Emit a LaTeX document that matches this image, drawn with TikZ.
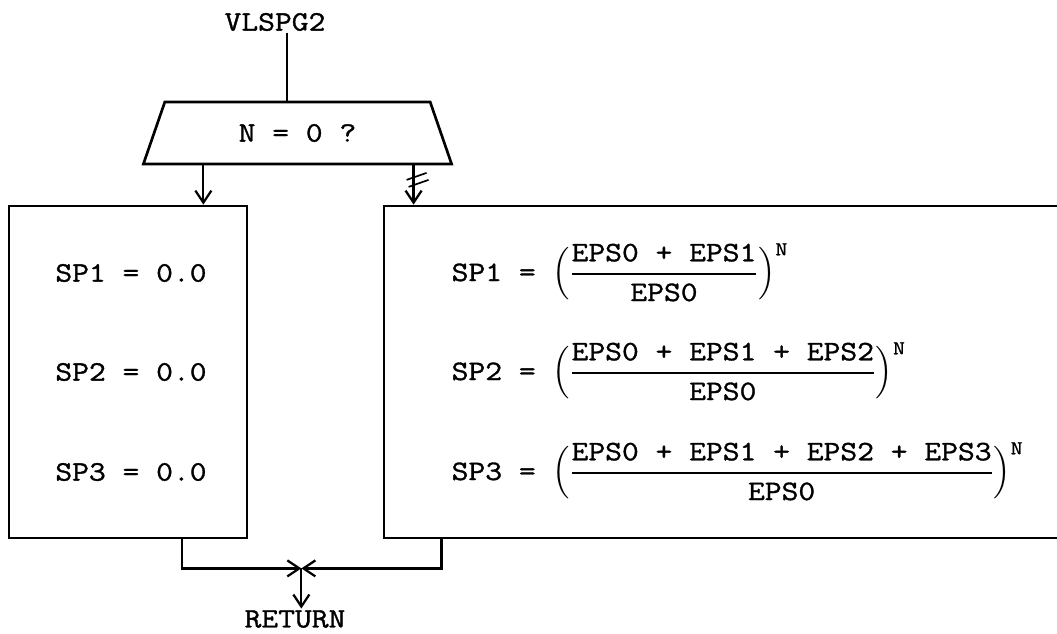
\documentclass[tikz,border=0pt]{standalone}
\usepackage{amsmath}
\usepackage{fontspec}
\setmonofont{Latin Modern Mono}[FakeStretch=1.16, FakeBold=1.2]
\usetikzlibrary{positioning,arrows.meta,shapes.geometric,calc}
\tikzset{
  flowarrow/.style={-{Straight Barb[length=0.3cm, width=0.4cm]}, line width=1.6pt},
  flowline/.style={line width=1.6pt},
  testbox/.style={draw, trapezium, trapezium stretches=true, trapezium left angle=62, trapezium right angle=62, line width=1.9pt, minimum width=7.78cm, minimum height=1.55cm, inner sep=0pt},
  procbox/.style={draw, rectangle, line width=1.9pt, inner sep=0pt},
  typed/.style={font=\ttfamily\fontsize{20}{24}\selectfont, inner sep=1pt}
}

\begin{document}
\begin{tikzpicture}[x=0.025cm, y=-0.025cm, every node/.style={typed}]
  \useasboundingbox (0,0) rectangle (1057,633);
  \clip (0,0) rectangle (1057,633);
  \node (entry) at (275,22) {VLSPG2};
  \node[testbox] (test) at (297.5,133) {N = 0 ?};
  \node[procbox, minimum width=5.95cm, minimum height=8.3cm] (zero) at (128,372) {};
  \node[procbox, minimum width=17.4cm, minimum height=8.3cm] (power) at (732,372) {};
  \node (ret) at (295,619) {RETURN};
  % N = 0
  \node (z1) at (131,273) {SP1 = 0.0};
  \node (z2) at (131,372) {SP2 = 0.0};
  \node (z3) at (131,472) {SP3 = 0.0};
  % N /= 0
  \node[anchor=base west] (p1) at (450,281) {SP1 = $\displaystyle\Bigl(\genfrac{}{}{1.4pt}{0}{\text{EPS0 + EPS1}}{\text{EPS0}}\Bigr)^{\text{N}}$};
  \node[anchor=base west] (p2) at (450,380) {SP2 = $\displaystyle\Bigl(\genfrac{}{}{1.4pt}{0}{\text{EPS0 + EPS1 + EPS2}}{\text{EPS0}}\Bigr)^{\text{N}}$};
  \node[anchor=base west] (p3) at (450,480) {SP3 = $\displaystyle\Bigl(\genfrac{}{}{1.4pt}{0}{\text{EPS0 + EPS1 + EPS2 + EPS3}}{\text{EPS0}}\Bigr)^{\text{N}}$};

  \coordinate (entryfoot) at ($(entry.south)+(12,0)$);
  \draw[flowline] (entryfoot) -- (entryfoot |- test.north);
  \coordinate (yes) at ($(zero.north east)+(-45,0)$);
  \draw[flowarrow] (yes |- test.south) -- (yes);
  \coordinate (no) at ($(power.north west)+(31,0)$);
  \draw[flowarrow] (no |- test.south) -- coordinate[pos=0.37] (neq) (no);
  \draw[flowline, line width=1.2pt] ($(neq)+(-7,0)$) -- ($(neq)+(13,-7)$);
  \draw[flowline, line width=1.2pt] ($(neq)+(-5,7)$) -- ($(neq)+(15,0)$);
  \coordinate (merge) at ($(zero.south east)+(53,29)$);
  \draw[flowarrow] ($(zero.south east)+(-66,0)$) |- (merge);
  \draw[flowarrow] ($(power.south west)+(59,0)$) |- (merge);
  \draw[flowarrow] (merge) -- (merge |- ret.north);
\end{tikzpicture}
\end{document}
